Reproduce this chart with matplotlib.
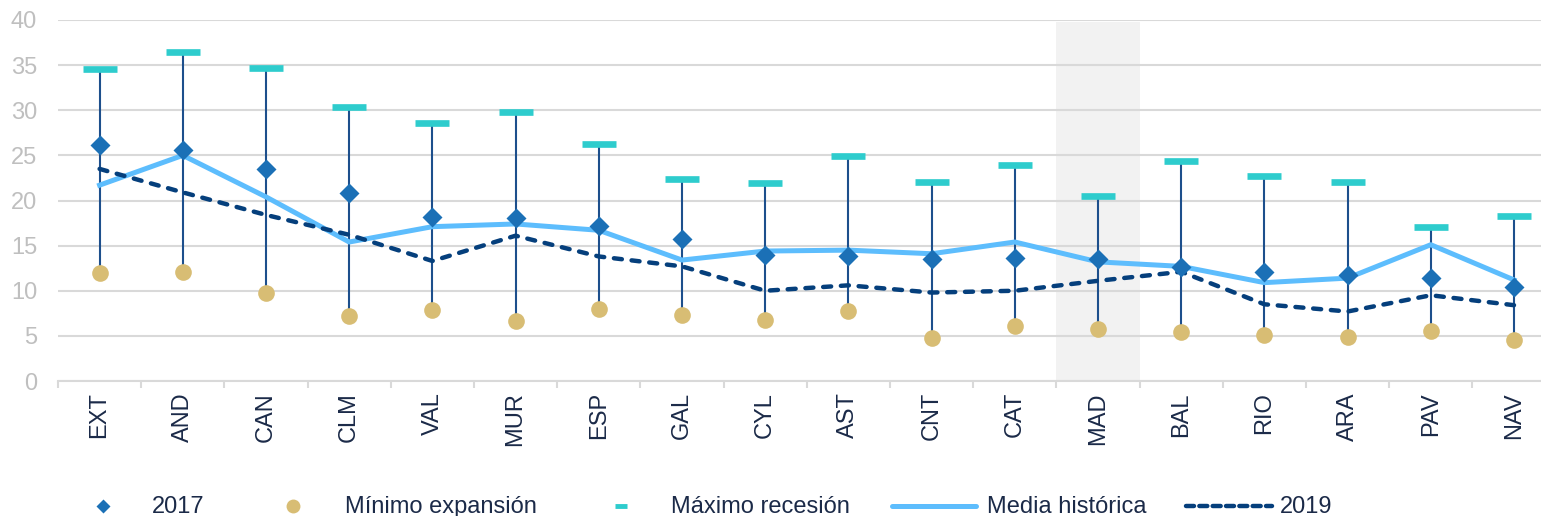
import numpy as np
import matplotlib
matplotlib.use("Agg")
import matplotlib.pyplot as plt
from matplotlib.lines import Line2D

plt.rcParams['font.family'] = ['Liberation Sans', 'DejaVu Sans']

# regiones
regiones = ["EXT", "AND", "CAN", "CLM", "VAL", "MUR", "ESP", "GAL", "CYL",
            "AST", "CNT", "CAT", "MAD", "BAL", "RIO", "ARA", "PAV", "NAV"]

# tasas de paro (%)
v2017 = [26.2, 25.6, 23.5, 20.8, 18.2, 18.1, 17.2, 15.7, 14.0,
         13.8, 13.5, 13.6, 13.5, 12.6, 12.1, 11.7, 11.4, 10.4]
min_expansion = [12.0, 12.1, 9.7, 7.2, 7.9, 6.6, 8.0, 7.3, 6.8,
                 7.8, 4.8, 6.1, 5.8, 5.4, 5.1, 4.9, 5.5, 4.5]
max_recesion = [34.6, 36.5, 34.7, 30.4, 28.6, 29.8, 26.3, 22.4, 21.9,
                24.9, 22.0, 23.9, 20.5, 24.4, 22.7, 22.0, 17.1, 18.3]
media_historica = [21.7, 25.0, 20.4, 15.4, 17.1, 17.4, 16.7, 13.4, 14.4,
                   14.5, 14.1, 15.4, 13.2, 12.7, 10.9, 11.4, 15.1, 11.2]
v2019 = [23.5, 20.9, 18.4, 16.2, 13.3, 16.1, 13.8, 12.7, 10.0,
         10.6, 9.8, 10.0, 11.1, 12.1, 8.5, 7.7, 9.5, 8.4]
destacada = "MAD"

c_diam = "#1b70b6"
c_circ = "#d8bd74"
c_max = "#2ecccd"
c_vline = "#1d4f8c"
c_media = "#5dbdfd"
c_2019 = "#053f7c"
c_text = "#1b2a48"

W, H = 1541, 516
fig = plt.figure(figsize=(W / 100, H / 100), dpi=100)
x0, y0, y1 = 58, 381, 20
step = 83.2
ax = fig.add_axes([x0 / W, 1 - y0 / H, 18 * step / W, (y0 - y1) / H])

x = np.arange(len(regiones))
ax.set_xlim(-0.5, len(regiones) - 0.5)
ax.set_ylim(0, 40)

# fondo y rejilla
ax.set_yticks(np.arange(0, 41, 5))
ax.grid(axis='y', color='#d9d9d9', lw=1.5, zorder=0)
ax.set_axisbelow(True)
for s in ['top', 'right', 'left']:
    ax.spines[s].set_visible(False)
ax.spines['bottom'].set_color('#d9d9d9')
ax.spines['bottom'].set_linewidth(1.5)

i = regiones.index(destacada)
ax.axvspan(i - 0.5, i + 0.5, ymax=0.995, color='#f2f2f2', zorder=0.5, lw=0)

ax.tick_params(axis='y', length=0, pad=15, labelsize=17, labelcolor='#bfbfbf')
ax.set_xticks(x)
ax.set_xticklabels(regiones, rotation=90, fontsize=17, color=c_text)
ax.set_xticks(np.arange(-0.5, len(regiones), 1), minor=True)
ax.tick_params(axis='x', which='major', length=0, pad=8)
ax.tick_params(axis='x', which='minor', length=5, width=1.5, color='#d9d9d9')

# linea entre minimo y maximo
ax.vlines(x, min_expansion, max_recesion, color=c_vline, lw=1.5, zorder=2)
ax.plot(x, media_historica, color=c_media, lw=3.6, zorder=3)
ax.plot(x, v2019, color=c_2019, lw=3.2, dashes=(1.8, 2.2),
        dash_capstyle='round', zorder=4)
ax.plot(x, min_expansion, 'o', ms=12, color=c_circ, mec='none', zorder=5)
ax.plot(x, max_recesion, '_', ms=24, mew=4.8, color=c_max, zorder=5)
ax.plot(x, v2017, 'D', ms=10.5, color=c_diam, mec='none', zorder=6)

# leyenda
ly = 1 - 506 / H
ty = 1 - 513 / H
def fx(px):
    return px / W

fig.add_artist(Line2D([fx(103)], [ly], marker='D', ms=7, color=c_diam, mec='none'))
fig.add_artist(Line2D([fx(293)], [ly], marker='o', ms=10, color=c_circ, mec='none'))
fig.add_artist(Line2D([fx(621)], [ly], marker='_', ms=8, mew=3.5, color=c_max))
fig.add_artist(Line2D([fx(892), fx(976)], [ly, ly], color=c_media, lw=3.6,
                      solid_capstyle='round'))
fig.add_artist(Line2D([fx(1186), fx(1272)], [ly, ly], color=c_2019, lw=3.2,
                      dashes=(1.8, 1.2), dash_capstyle='round'))
for px, txt in [(152, "2017"), (345, "Mínimo expansión"), (671, "Máximo recesión"),
                (987, "Media histórica"), (1280, "2019")]:
    fig.text(fx(px), ty, txt, fontsize=17, color=c_text, va='baseline', ha='left')

fig.savefig("out.png", dpi=100)
